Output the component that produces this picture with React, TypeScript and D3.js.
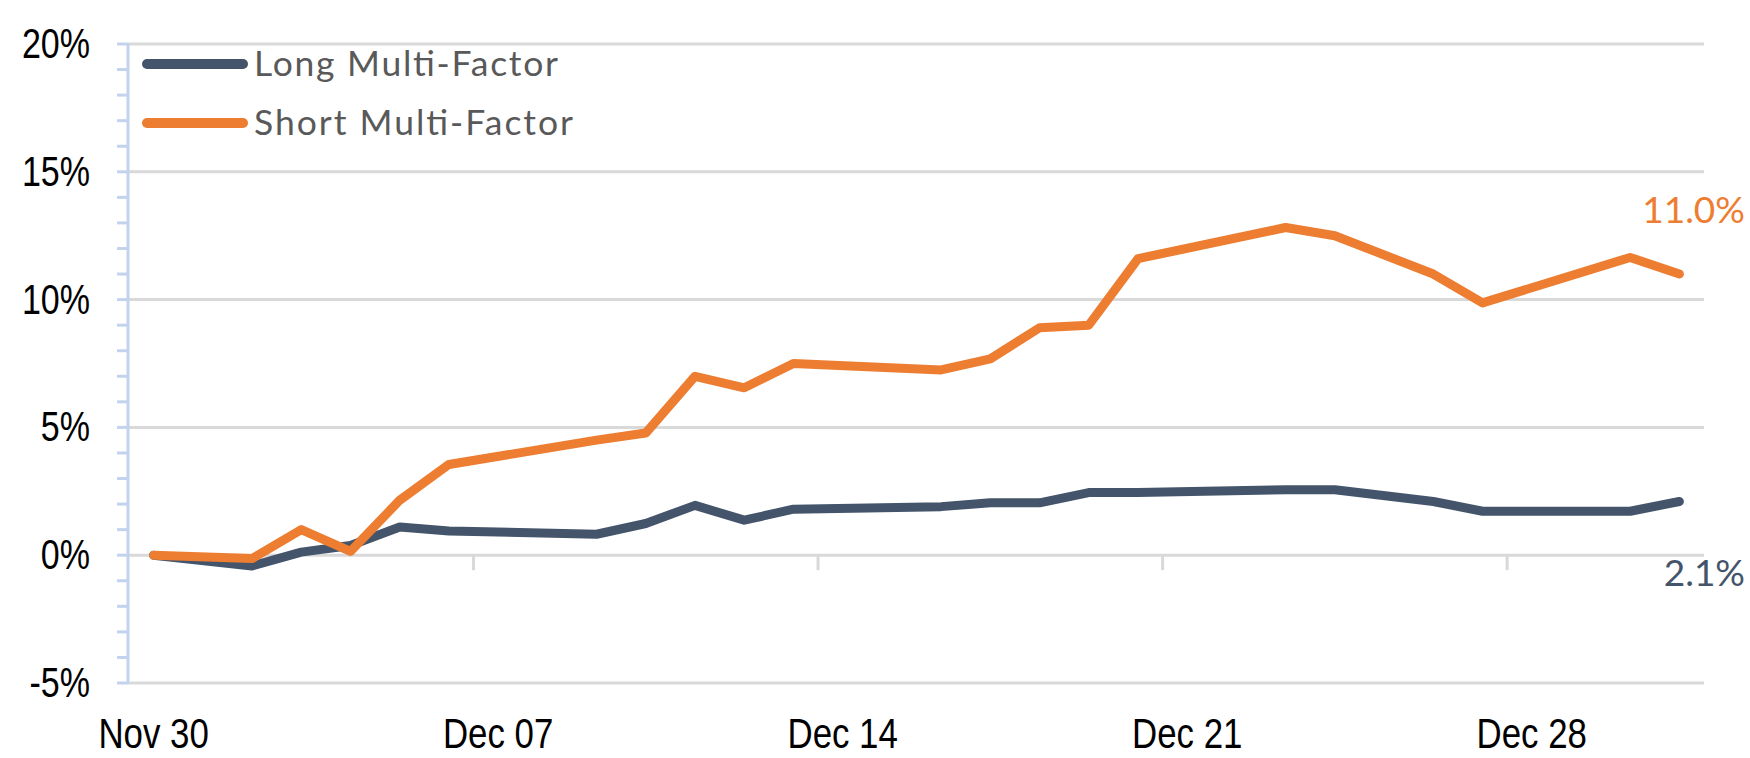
import React, { useEffect, useRef } from 'react';
import * as d3 from 'd3';

// trading days (Nov 30 is the base point)
const dates = [
  '2019-11-30', '2019-12-02', '2019-12-03', '2019-12-04', '2019-12-05', '2019-12-06',
  '2019-12-09', '2019-12-10', '2019-12-11', '2019-12-12', '2019-12-13',
  '2019-12-16', '2019-12-17', '2019-12-18', '2019-12-19', '2019-12-20',
  '2019-12-23', '2019-12-24', '2019-12-26', '2019-12-27', '2019-12-30', '2019-12-31',
];

const longValues = [
  0, -0.42, 0.12, 0.38, 1.1, 0.95,
  0.82, 1.24, 1.95, 1.37, 1.8,
  1.9, 2.05, 2.05, 2.45, 2.45,
  2.56, 2.56, 2.1, 1.72, 1.72, 2.1,
];

const shortValues = [
  0, -0.13, 1.0, 0.15, 2.15, 3.55,
  4.5, 4.78, 7.0, 6.55, 7.5,
  7.25, 7.68, 8.9, 9.0, 11.6,
  12.82, 12.5, 11.0, 9.87, 11.65, 11.0,
];

const seriesNames = ['Long Multi-Factor', 'Short Multi-Factor'];
const seriesColors = ['#44546A', '#ED7D31'];
const endLabels = ['2.1%', '11.0%'];

const yTicks = [-5, 0, 5, 10, 15, 20];
const xTickDates = ['2019-11-30', '2019-12-07', '2019-12-14', '2019-12-21', '2019-12-28'];
const xTickLabels = ['Nov 30', 'Dec 07', 'Dec 14', 'Dec 21', 'Dec 28'];
const xDomain = ['2019-11-30', '2020-01-01'];

const W = 1750;
const H = 758;

const Chart: React.FC = () => {
  const svgRef: any = useRef<SVGSVGElement>(null);

  useEffect(() => {
    if (!svgRef.current) return;
    const svg = d3.select(svgRef.current);
    svg.selectAll('*').remove();

    const parse = d3.utcParse('%Y-%m-%d');
    const halfDay = 12 * 3600 * 1000;

    const x = d3
      .scaleUtc()
      .domain(xDomain.map(d => parse(d)!))
      .range([129, 1704]);
    const y = d3.scaleLinear().domain([-5, 20]).range([683, 44]);

    // points sit in the middle of each day slot
    const px = (s: string) => x(new Date(parse(s)!.getTime() + halfDay));

    const narrow = 'Liberation Sans, Arial, sans-serif';
    const calib = 'Lato, "Open Sans", sans-serif';

    // gridlines
    svg
      .append('g')
      .selectAll('line')
      .data(yTicks)
      .join('line')
      .attr('x1', 128)
      .attr('x2', x.range()[1])
      .attr('y1', d => y(d))
      .attr('y2', d => y(d))
      .attr('stroke', '#D9D9D9')
      .attr('stroke-width', 3);

    // x tick marks on the 0% line (week boundaries)
    svg
      .append('g')
      .selectAll('line')
      .data(xTickDates.slice(1))
      .join('line')
      .attr('x1', d => x(parse(d)!))
      .attr('x2', d => x(parse(d)!))
      .attr('y1', y(0))
      .attr('y2', y(0) + 15)
      .attr('stroke', '#D9D9D9')
      .attr('stroke-width', 3);

    // y axis with 1% ticks
    const yAxisG = svg.append('g');
    yAxisG
      .selectAll('line')
      .data(d3.range(-5, 21, 1))
      .join('line')
      .attr('x1', 117)
      .attr('x2', 128)
      .attr('y1', d => y(d))
      .attr('y2', d => y(d))
      .attr('stroke', '#C3D3EE')
      .attr('stroke-width', 3);
    yAxisG
      .append('line')
      .attr('x1', 128)
      .attr('x2', 128)
      .attr('y1', y(20) - 1)
      .attr('y2', y(-5) + 1)
      .attr('stroke', '#C3D3EE')
      .attr('stroke-width', 3);

    // y labels (narrow face)
    svg
      .append('g')
      .selectAll('text')
      .data(yTicks)
      .join('text')
      .attr('transform', d => `translate(90,${y(d) + 14}) scale(0.81,1)`)
      .attr('text-anchor', 'end')
      .attr('font-family', narrow)
      .attr('font-size', 42)
      .attr('fill', '#000')
      .text(d => `${d}%`);

    // x labels
    svg
      .append('g')
      .selectAll('text')
      .data(xTickDates)
      .join('text')
      .attr('transform', d => `translate(${px(d)},748) scale(0.83,1)`)
      .attr('text-anchor', 'middle')
      .attr('font-family', narrow)
      .attr('font-size', 42)
      .attr('fill', '#000')
      .text((d, i) => xTickLabels[i]);

    // lines
    const series = [longValues, shortValues];
    const line = d3
      .line<number>()
      .x((d, i) => px(dates[i]))
      .y(d => y(d));

    series.forEach((vals, i) => {
      svg
        .append('path')
        .datum(vals)
        .attr('d', line)
        .attr('fill', 'none')
        .attr('stroke', seriesColors[i])
        .attr('stroke-width', 9)
        .attr('stroke-linejoin', 'round')
        .attr('stroke-linecap', 'round');
    });

    // end labels
    const endY = [586, 223];
    series.forEach((vals, i) => {
      svg
        .append('text')
        .attr('x', 1745)
        .attr('y', endY[i])
        .attr('text-anchor', 'end')
        .attr('font-family', calib)
        .attr('font-size', 37)
        .attr('fill', seriesColors[i])
        .text(endLabels[i]);
    });

    // legend
    const legWidths = [304, 319];
    const leg = svg.append('g');
    seriesNames.forEach((name, i) => {
      const ly = 64 + i * 59;
      leg
        .append('line')
        .attr('x1', 147)
        .attr('x2', 243)
        .attr('y1', ly)
        .attr('y2', ly)
        .attr('stroke', seriesColors[i])
        .attr('stroke-width', 10)
        .attr('stroke-linecap', 'round');
      leg
        .append('text')
        .attr('x', 254)
        .attr('y', ly + 12)
        .attr('font-family', calib)
        .attr('font-size', 35.5)
        .attr('textLength', legWidths[i])
        .attr('lengthAdjust', 'spacing')
        .attr('fill', '#595959')
        .text(name);
    });
  }, []);

  return (
    <svg
      ref={svgRef}
      width={W}
      height={H}
      style={{ position: 'absolute', left: 0, top: 0, display: 'block', background: '#fff' }}
    ></svg>
  );
};

const App = () => {
  return (
    <div>
      <Chart />
    </div>
  );
};

export default App;
